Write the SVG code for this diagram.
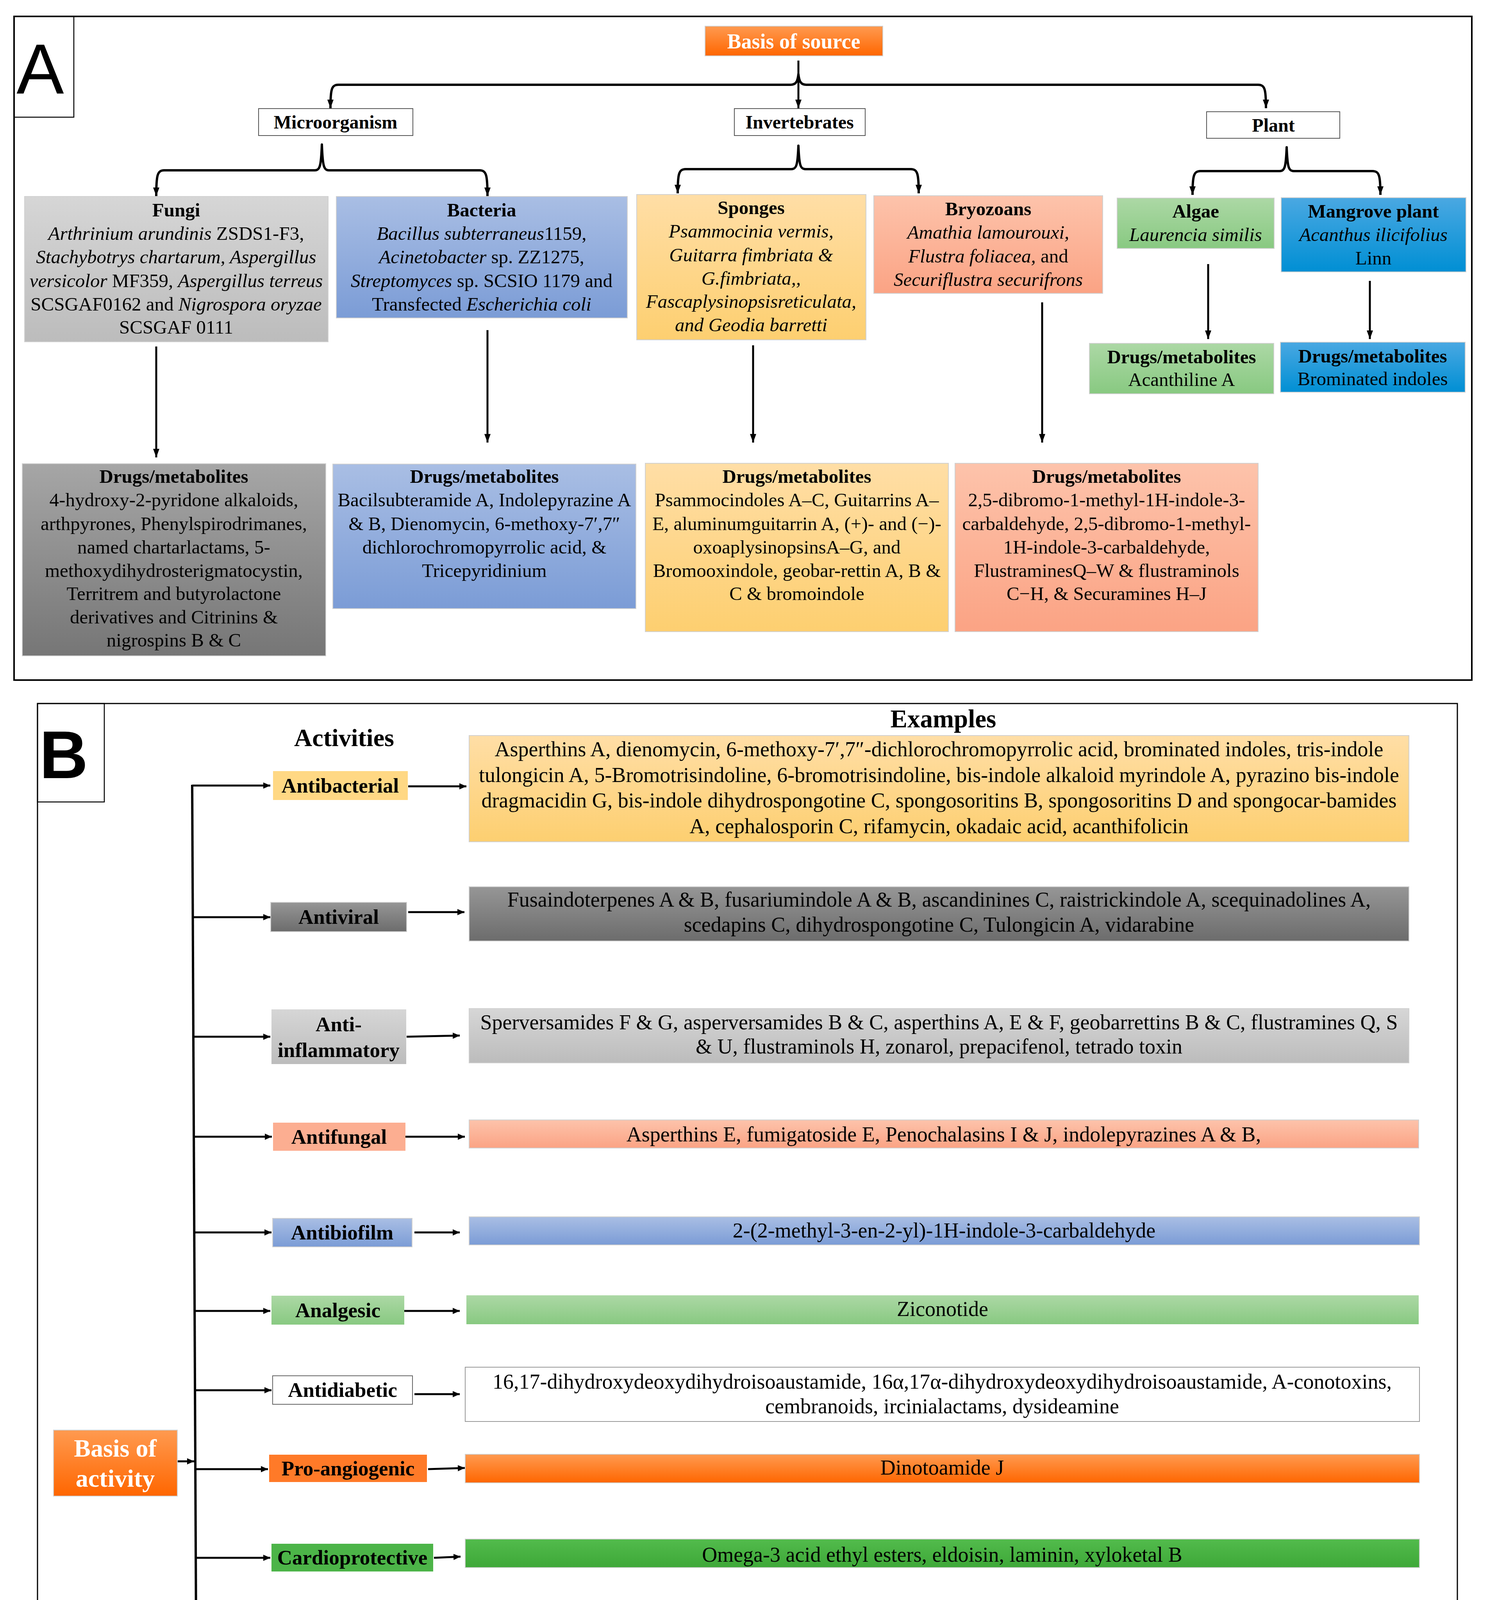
<svg xmlns="http://www.w3.org/2000/svg" width="3812" height="5488" viewBox="0 0 3812 5488">
<style>
.t{font-family:"Liberation Serif","Times New Roman",serif;fill:#000;text-anchor:middle}
.a{font-size:49px}
.b{font-size:54px}
.lb{font-size:53px;font-weight:bold}
.bd{font-weight:bold}
.it{font-style:italic}
.w{fill:#fff}
.ln{fill:none;stroke:#000;stroke-width:5}
.br{fill:none;stroke:#000;stroke-width:6;stroke-linejoin:round}
.sh{stroke:#d0d0d0;stroke-width:2}
</style>
<defs>
<marker id="ahA" viewBox="0 0 22 16" markerUnits="userSpaceOnUse" markerWidth="22" markerHeight="16" refX="22" refY="8" orient="auto-start-reverse"><path d="M0,0 L22,8 L0,16 z" fill="#000"/></marker>
<marker id="ahB" viewBox="0 0 18 16" markerUnits="userSpaceOnUse" markerWidth="18" markerHeight="16" refX="18" refY="8" orient="auto"><path d="M0,0 L18,8 L0,16 z" fill="#000"/></marker>
<linearGradient id="gOr" x1="0" y1="0" x2="0" y2="1"><stop offset="0" stop-color="#ff9a50"/><stop offset="1" stop-color="#ff6600"/></linearGradient>
<linearGradient id="gLg" x1="0" y1="0" x2="0" y2="1"><stop offset="0" stop-color="#d6d6d6"/><stop offset="1" stop-color="#bcbcbc"/></linearGradient>
<linearGradient id="gDg" x1="0" y1="0" x2="0" y2="1"><stop offset="0" stop-color="#a6a6a6"/><stop offset="1" stop-color="#767676"/></linearGradient>
<linearGradient id="gVg" x1="0" y1="0" x2="0" y2="1"><stop offset="0" stop-color="#969696"/><stop offset="1" stop-color="#6c6c6c"/></linearGradient>
<linearGradient id="gBl" x1="0" y1="0" x2="0" y2="1"><stop offset="0" stop-color="#a9bee4"/><stop offset="1" stop-color="#7b9cd6"/></linearGradient>
<linearGradient id="gYl" x1="0" y1="0" x2="0" y2="1"><stop offset="0" stop-color="#ffdea6"/><stop offset="1" stop-color="#fdcf70"/></linearGradient>
<linearGradient id="gSa" x1="0" y1="0" x2="0" y2="1"><stop offset="0" stop-color="#fdc3ab"/><stop offset="1" stop-color="#fba384"/></linearGradient>
<linearGradient id="gGr" x1="0" y1="0" x2="0" y2="1"><stop offset="0" stop-color="#acd8a5"/><stop offset="1" stop-color="#88c981"/></linearGradient>
<linearGradient id="gCy" x1="0" y1="0" x2="0" y2="1"><stop offset="0" stop-color="#4aa8e2"/><stop offset="1" stop-color="#008fd4"/></linearGradient>
<linearGradient id="gGg" x1="0" y1="0" x2="0" y2="1"><stop offset="0" stop-color="#52bb4c"/><stop offset="1" stop-color="#3ea838"/></linearGradient>
<linearGradient id="gGo" x1="0" y1="0" x2="0" y2="1"><stop offset="0" stop-color="#ffcb2a"/><stop offset="1" stop-color="#ffb600"/></linearGradient>
<linearGradient id="gBk" x1="0" y1="0" x2="0" y2="1"><stop offset="0" stop-color="#333"/><stop offset="1" stop-color="#000"/></linearGradient>
<linearGradient id="gDb" x1="0" y1="0" x2="0" y2="1"><stop offset="0" stop-color="#3384e4"/><stop offset="1" stop-color="#0a5bbf"/></linearGradient>
<linearGradient id="gCa" x1="0" y1="0" x2="0" y2="1"><stop offset="0" stop-color="#bababa"/><stop offset="1" stop-color="#9e9e9e"/></linearGradient>
</defs>
<rect width="3812" height="5488" fill="#fff"/>

<g id="panelA">
<rect x="36" y="42" width="3732" height="1699" fill="none" stroke="#000" stroke-width="4"/>
<rect x="36" y="42" width="153" height="258" fill="none" stroke="#000" stroke-width="2.5"/>
<text x="103" y="240" style="font-family:'Liberation Sans',Arial,sans-serif;font-size:182px;text-anchor:middle">A</text>
</g>

<g id="connectorsA">
<line class="ln" x1="2044" y1="155" x2="2044" y2="277" marker-end="url(#ahA)"/>
<path class="br" d="M846,277 C846,228 849,217 866,217 L2024,217 C2038,217 2042,208 2044,190 C2046,208 2050,217 2064,217 L3221,217 C3238,217 3241,228 3241,277" marker-start="url(#ahA)" marker-end="url(#ahA)"/>
<path class="br" d="M400,502 C400,448 403,436 420,436 L806,436 C819,436 822,425 824,370 C826,425 829,436 842,436 L1228,436 C1245,436 1248,448 1248,502" marker-start="url(#ahA)" marker-end="url(#ahA)"/>
<path class="br" d="M1735,495 C1735,445 1738,433 1755,433 L2026,433 C2039,433 2042,423 2044,373 C2046,423 2049,433 2062,433 L2332,433 C2349,433 2352,445 2352,495" marker-start="url(#ahA)" marker-end="url(#ahA)"/>
<path class="br" d="M3053,499 C3053,450 3056,438 3073,438 L3276,438 C3289,438 3292,428 3294,377 C3296,428 3299,438 3312,438 L3514,438 C3531,438 3534,450 3534,499" marker-start="url(#ahA)" marker-end="url(#ahA)"/>
<line class="ln" x1="400" y1="887" x2="400" y2="1171" stroke-width="4" marker-end="url(#ahA)"/>
<line class="ln" x1="1248" y1="845" x2="1248" y2="1133" stroke-width="4" marker-end="url(#ahA)"/>
<line class="ln" x1="1928" y1="884" x2="1928" y2="1133" stroke-width="4" marker-end="url(#ahA)"/>
<line class="ln" x1="2668" y1="774" x2="2668" y2="1133" stroke-width="4" marker-end="url(#ahA)"/>
<line class="ln" x1="3093" y1="676" x2="3093" y2="868" stroke-width="4" marker-end="url(#ahA)"/>
<line class="ln" x1="3507" y1="719" x2="3507" y2="868" stroke-width="4" marker-end="url(#ahA)"/>
</g>

<g id="basisSource">
<rect class="sh" x="1805" y="67" width="455" height="76" fill="url(#gOr)"/>
<text class="t bd w" x="2032" y="124" style="font-size:54px">Basis of source</text>
</g>
<g id="microorganism">
<rect x="662" y="278" width="395" height="69" fill="#fff" stroke="#555" stroke-width="2"/>
<text class="t bd" x="859" y="329" style="font-size:48px">Microorganism</text>
</g>
<g id="invertebrates">
<rect x="1880" y="278" width="335" height="69" fill="#fff" stroke="#555" stroke-width="2"/>
<text class="t bd" x="2047" y="329" style="font-size:48px">Invertebrates</text>
</g>
<g id="plant">
<rect x="3089" y="286" width="341" height="68" fill="#fff" stroke="#555" stroke-width="2"/>
<text class="t bd" x="3260" y="337" style="font-size:48px">Plant</text>
</g>

<g id="fungi">
<rect class="sh" x="63" y="503" width="777" height="372" fill="url(#gLg)"/>
<text class="t a" x="451"><tspan x="451" y="554" class="bd">Fungi</tspan><tspan x="451" y="614"><tspan class="it">Arthrinium arundinis</tspan> ZSDS1-F3,</tspan><tspan x="451" y="674" class="it">Stachybotrys  chartarum, Aspergillus</tspan><tspan x="451" y="735"><tspan class="it">versicolor</tspan> MF359, <tspan class="it">Aspergillus terreus</tspan></tspan><tspan x="451" y="795">SCSGAF0162 and <tspan class="it">Nigrospora oryzae</tspan></tspan><tspan x="451" y="854">SCSGAF 0111</tspan></text>
</g>
<g id="bacteria">
<rect class="sh" x="861" y="503" width="745" height="311" fill="url(#gBl)"/>
<text class="t a" x="1233"><tspan x="1233" y="554" class="bd">Bacteria</tspan><tspan x="1233" y="614"><tspan class="it">Bacillus subterraneus</tspan>1159,</tspan><tspan x="1233" y="674"><tspan class="it">Acinetobacter</tspan> sp. ZZ1275,</tspan><tspan x="1233" y="735"><tspan class="it">Streptomyces</tspan> sp. SCSIO 1179 and</tspan><tspan x="1233" y="795">Transfected <tspan class="it">Escherichia coli</tspan></tspan></text>
</g>
<g id="sponges">
<rect class="sh" x="1630" y="498" width="587" height="372" fill="url(#gYl)"/>
<text class="t a" x="1923"><tspan x="1923" y="548" class="bd">Sponges</tspan><tspan x="1923" y="608" class="it">Psammocinia vermis,</tspan><tspan x="1923" y="669" class="it">Guitarra fimbriata &amp;</tspan><tspan x="1923" y="729" class="it">G.fimbriata,,</tspan><tspan x="1923" y="788" class="it">Fascaplysinopsisreticulata,</tspan><tspan x="1923" y="848" class="it">and Geodia barretti</tspan></text>
</g>
<g id="bryozoans">
<rect class="sh" x="2237" y="501" width="586" height="250" fill="url(#gSa)"/>
<text class="t a" x="2530"><tspan x="2530" y="551" class="bd">Bryozoans</tspan><tspan x="2530" y="611" class="it">Amathia lamourouxi,</tspan><tspan x="2530" y="672"><tspan class="it">Flustra foliacea,</tspan> and</tspan><tspan x="2530" y="732" class="it">Securiflustra securifrons</tspan></text>
</g>
<g id="algae">
<rect class="sh" x="2860" y="507" width="402" height="129" fill="url(#gGr)"/>
<text class="t a" x="3061"><tspan x="3061" y="557" class="bd">Algae</tspan><tspan x="3061" y="617" class="it">Laurencia similis</tspan></text>
</g>
<g id="mangrove">
<rect class="sh" x="3280" y="506" width="473" height="190" fill="url(#gCy)"/>
<text class="t a" x="3516"><tspan x="3516" y="557" class="bd">Mangrove plant</tspan><tspan x="3516" y="617" class="it">Acanthus ilicifolius</tspan><tspan x="3516" y="677">Linn</tspan></text>
</g>

<g id="fungiDrugs">
<rect class="sh" x="57" y="1187" width="777" height="492" fill="url(#gDg)"/>
<text class="t a" x="445"><tspan x="445" y="1236" class="bd">Drugs/metabolites</tspan><tspan x="445" y="1296">4-hydroxy-2-pyridone alkaloids,</tspan><tspan x="445" y="1357">arthpyrones, Phenylspirodrimanes,</tspan><tspan x="445" y="1417">named chartarlactams, 5-</tspan><tspan x="445" y="1477">methoxydihydrosterigmatocystin,</tspan><tspan x="445" y="1536">Territrem and butyrolactone</tspan><tspan x="445" y="1596">derivatives and Citrinins &amp;</tspan><tspan x="445" y="1655">nigrospins B &amp; C</tspan></text>
</g>
<g id="bacteriaDrugs">
<rect class="sh" x="852" y="1188" width="776" height="370" fill="url(#gBl)"/>
<text class="t a" x="1240"><tspan x="1240" y="1236" class="bd">Drugs/metabolites</tspan><tspan x="1240" y="1296">Bacilsubteramide A, Indolepyrazine A</tspan><tspan x="1240" y="1357">&amp; B, Dienomycin, 6-methoxy-7′,7″</tspan><tspan x="1240" y="1417">dichlorochromopyrrolic acid, &amp;</tspan><tspan x="1240" y="1477">Tricepyridinium</tspan></text>
</g>
<g id="spongesDrugs">
<rect class="sh" x="1652" y="1186" width="776" height="431" fill="url(#gYl)"/>
<text class="t a" x="2040"><tspan x="2040" y="1236" class="bd">Drugs/metabolites</tspan><tspan x="2040" y="1296">Psammocindoles A–C, Guitarrins A–</tspan><tspan x="2040" y="1357">E, aluminumguitarrin A, (+)- and (−)-</tspan><tspan x="2040" y="1417">oxoaplysinopsinsA–G, and</tspan><tspan x="2040" y="1477">Bromooxindole, geobar-rettin A, B &amp;</tspan><tspan x="2040" y="1536">C &amp; bromoindole</tspan></text>
</g>
<g id="bryozoansDrugs">
<rect class="sh" x="2445" y="1186" width="776" height="431" fill="url(#gSa)"/>
<text class="t a" x="2833"><tspan x="2833" y="1236" class="bd">Drugs/metabolites</tspan><tspan x="2833" y="1296">2,5-dibromo-1-methyl-1H-indole-3-</tspan><tspan x="2833" y="1357">carbaldehyde, 2,5-dibromo-1-methyl-</tspan><tspan x="2833" y="1417">1H-indole-3-carbaldehyde,</tspan><tspan x="2833" y="1477">FlustraminesQ–W &amp; flustraminols</tspan><tspan x="2833" y="1536">C−H, &amp; Securamines H–J</tspan></text>
</g>
<g id="algaeDrugs">
<rect class="sh" x="2789" y="879" width="472" height="129" fill="url(#gGr)"/>
<text class="t a" x="3025"><tspan x="3025" y="930" class="bd">Drugs/metabolites</tspan><tspan x="3025" y="988">Acanthiline A</tspan></text>
</g>
<g id="mangroveDrugs">
<rect class="sh" x="3278" y="876" width="473" height="128" fill="url(#gCy)"/>
<text class="t a" x="3514"><tspan x="3514" y="928" class="bd">Drugs/metabolites</tspan><tspan x="3514" y="986">Brominated indoles</tspan></text>
</g>

<g id="panelB">
<rect x="96" y="1801" width="3635" height="3651" fill="none" stroke="#000" stroke-width="3"/>
<line x1="96" y1="5452" x2="3731" y2="5452" stroke="#000" stroke-width="6"/>
<rect x="96" y="1801" width="171" height="252" fill="none" stroke="#000" stroke-width="2.5"/>
<text x="163" y="1992" style="font-family:'Liberation Sans',Arial,sans-serif;font-size:172px;font-weight:bold;text-anchor:middle">B</text>
<text class="t bd" x="881" y="1910" style="font-size:64px">Activities</text>
<text class="t bd" x="2415" y="1862" style="font-size:65px">Examples</text>
</g>

<g id="connectorsB">
<path class="ln" d="M492,2011 L692,2011" marker-end="url(#ahB)"/>
<line x1="492" y1="2009" x2="507" y2="5250" stroke="#000" stroke-width="6"/>
<line class="ln" x1="494" y1="2348" x2="692" y2="2348" marker-end="url(#ahB)"/>
<line class="ln" x1="495" y1="2654" x2="692" y2="2654" marker-end="url(#ahB)"/>
<line class="ln" x1="496" y1="2910" x2="696" y2="2910" marker-end="url(#ahB)"/>
<line class="ln" x1="497" y1="3155" x2="695" y2="3155" marker-end="url(#ahB)"/>
<line class="ln" x1="498" y1="3356" x2="692" y2="3356" marker-end="url(#ahB)"/>
<line class="ln" x1="499" y1="3559" x2="695" y2="3559" marker-end="url(#ahB)"/>
<line class="ln" x1="500" y1="3761" x2="686" y2="3761" marker-end="url(#ahB)"/>
<line class="ln" x1="501" y1="3988" x2="692" y2="3988" marker-end="url(#ahB)"/>
<line class="ln" x1="502" y1="4231" x2="685" y2="4231" marker-end="url(#ahB)"/>
<line class="ln" x1="503" y1="4465" x2="695" y2="4465" marker-end="url(#ahB)"/>
<line class="ln" x1="504" y1="4710" x2="692" y2="4710" marker-end="url(#ahB)"/>
<line class="ln" x1="506" y1="4952" x2="704" y2="4952" marker-end="url(#ahB)"/>
<path class="ln" d="M507,5248 L700,5248" marker-end="url(#ahB)"/>
<line class="ln" x1="454" y1="3741" x2="497" y2="3741" marker-end="url(#ahB)"/>
<line class="ln" x1="1045" y1="2013" x2="1194" y2="2013" marker-end="url(#ahB)"/>
<line class="ln" x1="1045" y1="2335" x2="1189" y2="2335" marker-end="url(#ahB)"/>
<line class="ln" x1="1041" y1="2654" x2="1177" y2="2651" marker-end="url(#ahB)"/>
<line class="ln" x1="1038" y1="2910" x2="1190" y2="2910" marker-end="url(#ahB)"/>
<line class="ln" x1="1061" y1="3155" x2="1177" y2="3155" marker-end="url(#ahB)"/>
<line class="ln" x1="1035" y1="3356" x2="1177" y2="3356" marker-end="url(#ahB)"/>
<line class="ln" x1="1061" y1="3569" x2="1177" y2="3569" marker-end="url(#ahB)"/>
<line class="ln" x1="1096" y1="3761" x2="1190" y2="3758" marker-end="url(#ahB)"/>
<line class="ln" x1="1111" y1="3988" x2="1179" y2="3985" marker-end="url(#ahB)"/>
<line class="ln" x1="1061" y1="4231" x2="1171" y2="4231" marker-end="url(#ahB)"/>
<line class="ln" x1="1045" y1="4465" x2="1169" y2="4465" marker-end="url(#ahB)"/>
<line class="ln" x1="1111" y1="4710" x2="1179" y2="4710" marker-end="url(#ahB)"/>
<line class="ln" x1="1061" y1="4952" x2="1153" y2="4952" marker-end="url(#ahB)"/>
<line class="ln" x1="1045" y1="5248" x2="1169" y2="5248" marker-end="url(#ahB)"/>
</g>

<g id="basisActivity">
<rect class="sh" x="137" y="3661" width="317" height="169" fill="url(#gOr)"/>
<text class="t bd w" x="295" style="font-size:64px"><tspan x="295" y="3729">Basis of</tspan><tspan x="295" y="3806">activity</tspan></text>
</g>

<g id="antibacterial">
<rect x="699" y="1974" width="345" height="74" fill="#ffd884"/>
<text class="t lb" x="871" y="2029">Antibacterial</text>
<rect class="sh" x="1201" y="1883" width="2406" height="272" fill="url(#gYl)"/>
<text class="t b" x="2404"><tspan x="2404" y="1936">Asperthins A, dienomycin, 6-methoxy-7′,7″-dichlorochromopyrrolic acid, brominated indoles, tris-indole</tspan><tspan x="2404" y="2002">tulongicin A, 5-Bromotrisindoline, 6-bromotrisindoline, bis-indole alkaloid myrindole A, pyrazino bis-indole</tspan><tspan x="2404" y="2067">dragmacidin G, bis-indole dihydrospongotine C, spongosoritins B, spongosoritins D and spongocar-bamides</tspan><tspan x="2404" y="2133">A, cephalosporin C, rifamycin, okadaic acid, acanthifolicin</tspan></text>
</g>
<g id="antiviral">
<rect class="sh" x="693" y="2310" width="348" height="75" fill="url(#gVg)"/>
<text class="t lb" x="867" y="2365">Antiviral</text>
<rect class="sh" x="1201" y="2270" width="2406" height="139" fill="url(#gVg)"/>
<text class="t b" x="2404"><tspan x="2404" y="2321">Fusaindoterpenes A &amp; B, fusariumindole A &amp; B, ascandinines C, raistrickindole A, scequinadolines A,</tspan><tspan x="2404" y="2385">scedapins C, dihydrospongotine C, Tulongicin A, vidarabine</tspan></text>
</g>
<g id="antiinflammatory">
<rect x="695" y="2584" width="345" height="140" fill="url(#gLg)"/>
<text class="t lb" x="867"><tspan x="867" y="2640">Anti-</tspan><tspan x="867" y="2706">inflammatory</tspan></text>
<rect class="sh" x="1201" y="2582" width="2406" height="139" fill="url(#gLg)"/>
<text class="t b" x="2404"><tspan x="2404" y="2635">Sperversamides F &amp; G, asperversamides B &amp; C, asperthins A, E &amp; F, geobarrettins B &amp; C, flustramines Q, S</tspan><tspan x="2404" y="2697">&amp; U, flustraminols H, zonarol, prepacifenol, tetrado toxin</tspan></text>
</g>
<g id="antifungal">
<rect x="699" y="2874" width="339" height="72" fill="#fcae91"/>
<text class="t lb" x="868" y="2928">Antifungal</text>
<rect class="sh" x="1201" y="2867" width="2431" height="72" fill="url(#gSa)"/>
<text class="t b" x="2416" y="2922">Asperthins E, fumigatoside E, Penochalasins I &amp; J, indolepyrazines A &amp; B,</text>
</g>
<g id="antibiofilm">
<rect class="sh" x="698" y="3119" width="357" height="73" fill="url(#gBl)"/>
<text class="t lb" x="876" y="3173">Antibiofilm</text>
<rect class="sh" x="1201" y="3115" width="2433" height="72" fill="url(#gBl)"/>
<text class="t b" x="2417" y="3168">2-(2-methyl-3-en-2-yl)-1H-indole-3-carbaldehyde</text>
</g>
<g id="analgesic">
<rect x="695" y="3317" width="340" height="74" fill="url(#gGr)"/>
<text class="t lb" x="865" y="3372">Analgesic</text>
<rect x="1194" y="3316" width="2438" height="74" fill="url(#gGr)"/>
<text class="t b" x="2413" y="3369">Ziconotide</text>
</g>
<g id="antidiabetic">
<rect x="698" y="3522" width="358" height="73" fill="#fff" stroke="#666" stroke-width="2"/>
<text class="t lb" x="877" y="3576">Antidiabetic</text>
<rect x="1191" y="3500" width="2443" height="139" fill="#fff" stroke="#999" stroke-width="2"/>
<text class="t b" x="2412"><tspan x="2412" y="3555">16,17-dihydroxydeoxydihydroisoaustamide, 16α,17α-dihydroxydeoxydihydroisoaustamide, A-conotoxins,</tspan><tspan x="2412" y="3618">cembranoids, ircinialactams, dysideamine</tspan></text>
</g>
<g id="proangiogenic">
<rect x="689" y="3724" width="404" height="70" fill="#ff7a28"/>
<text class="t lb" x="891" y="3777">Pro-angiogenic</text>
<rect class="sh" x="1191" y="3723" width="2443" height="73" fill="url(#gOr)"/>
<text class="t b" x="2412" y="3775">Dinotoamide J</text>
</g>
<g id="cardioprotective">
<rect x="695" y="3952" width="414" height="71" fill="#4cb448"/>
<text class="t lb" x="902" y="4005">Cardioprotective</text>
<rect class="sh" x="1191" y="3940" width="2443" height="73" fill="url(#gGg)"/>
<text class="t b" x="2412" y="3998">Omega-3 acid ethyl esters, eldoisin, laminin, xyloketal B</text>
</g>
<g id="antiquorum">
<rect x="688" y="4161" width="388" height="138" fill="url(#gCy)"/>
<text class="t lb" x="882"><tspan x="882" y="4217">Anti-quorum</tspan><tspan x="882" y="4281">sensing</tspan></text>
<rect class="sh" x="1187" y="4192" width="2445" height="72" fill="url(#gCy)"/>
<text class="t b" x="2410" y="4248">Aspertoryadins F and G</text>
</g>
<g id="enzyme">
<rect class="sh" x="698" y="4399" width="339" height="140" fill="url(#gGo)"/>
<text class="t lb" x="867"><tspan x="867" y="4457">Enzyme</tspan><tspan x="867" y="4521">inhibitors</tspan></text>
<rect class="sh" x="1187" y="4394" width="2447" height="140" fill="url(#gGo)"/>
<text class="t b" x="2410"><tspan x="2410" y="4452">Guitarrins C, spongosoritins B &amp; C, spongocarbamides A &amp; B, xestosaprols, tasiamide B, leucettamines,</tspan><tspan x="2410" y="4515">petrosamine</tspan></text>
</g>
<g id="neuroprotective">
<rect x="695" y="4666" width="416" height="72" fill="#000"/>
<text class="t lb w" x="903" y="4720">Neuroprotective</text>
<rect class="sh" x="1187" y="4644" width="2447" height="140" fill="url(#gBk)"/>
<text class="t b w" x="2410"><tspan x="2410" y="4702">16,17-dihydroxydeoxydihydroisoaustamide, 16α,17α-dihydroxydeoxydihydroisoaustamide, A-conotoxins,</tspan><tspan x="2410" y="4766">cembranoids, ircinialactams, dysideamine</tspan></text>
</g>
<g id="antiparasitic">
<rect class="sh" x="707" y="4916" width="353" height="74" fill="url(#gDb)"/>
<text class="t lb" x="883" y="4971">Anti-parasitic</text>
<rect class="sh" x="1181" y="4911" width="2453" height="74" fill="url(#gDb)"/>
<text class="t b" x="2407" y="4967">5-Bromotrisindoline, 6-bromotrisindoline, dragmacidin G</text>
</g>
<g id="anticancer">
<rect x="703" y="5212" width="339" height="72" fill="#b3b3b3"/>
<text class="t lb" x="872" y="5266">Anti-cancer</text>
<rect class="sh" x="1181" y="5117" width="2453" height="271" fill="url(#gCa)"/>
<text class="t b" x="2407"><tspan x="2407" y="5174">Ascandinines D, Asperindoles A, penochalasins I, penochalasin K, candidusin D, dienomycin, 6-methoxy-</tspan><tspan x="2407" y="5240">7′,7″-dichorochromopyrrolicacid, (+)-oxoaplysinopsin C (133a), (−)-oxoaplysinopsin C, dragmacidin G,</tspan><tspan x="2407" y="5304">Dragmacidins I and J, Spongosoritins A–D, cytarabine, fludarabine phosphate, nelarabine, eribulin mesylate,</tspan><tspan x="2407" y="5370">plitidepsin, trabectedin, brentuximab vedotin, crassian acetate, sinularin</tspan></text>
</g>
</svg>
